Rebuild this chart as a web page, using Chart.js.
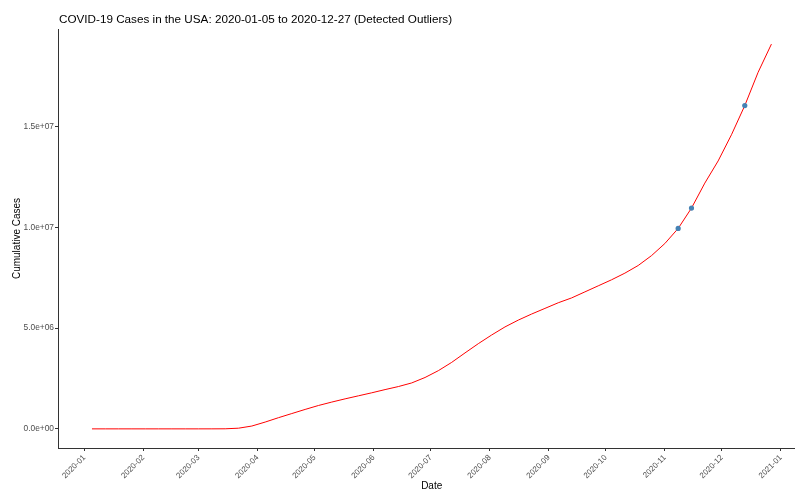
<!DOCTYPE html>
<html>
<head>
<meta charset="utf-8">
<script src="https://cdn.jsdelivr.net/npm/chart.js@4.4.1/dist/chart.umd.min.js"></script>
<style>
  html, body { margin: 0; padding: 0; background: #fff; overflow: hidden; }
  #wrap { width: 808px; height: 492px; }
</style>
</head>
<body>
<div id="wrap"><canvas id="lineChart" width="808" height="492"></canvas></div>
<script>
// weekly dates (Sundays)
var weekDates = [
  '2020-01-05','2020-01-12','2020-01-19','2020-01-26',
  '2020-02-02','2020-02-09','2020-02-16','2020-02-23',
  '2020-03-01','2020-03-08','2020-03-15','2020-03-22','2020-03-29',
  '2020-04-05','2020-04-12','2020-04-19','2020-04-26',
  '2020-05-03','2020-05-10','2020-05-17','2020-05-24','2020-05-31',
  '2020-06-07','2020-06-14','2020-06-21','2020-06-28',
  '2020-07-05','2020-07-12','2020-07-19','2020-07-26',
  '2020-08-02','2020-08-09','2020-08-16','2020-08-23','2020-08-30',
  '2020-09-06','2020-09-13','2020-09-20','2020-09-27',
  '2020-10-04','2020-10-11','2020-10-18','2020-10-25',
  '2020-11-01','2020-11-08','2020-11-15','2020-11-22','2020-11-29',
  '2020-12-06','2020-12-13','2020-12-20','2020-12-27'
];
// cumulative cases
var cumCases = [
  0, 0, 0, 5,
  8, 11, 13, 15,
  30, 500, 3500, 33000, 140000,
  337000, 555000, 760000, 965000,
  1160000, 1330000, 1490000, 1640000, 1790000,
  1950000, 2100000, 2280000, 2550000,
  2890000, 3300000, 3770000, 4230000,
  4660000, 5060000, 5400000, 5700000, 5980000,
  6260000, 6500000, 6800000, 7100000,
  7400000, 7730000, 8110000, 8600000,
  9200000, 9950000, 10960000, 12200000, 13300000,
  14600000, 16050000, 17700000, 19100000
];
// detected outliers
var outlierDates = ['2020-11-08', '2020-11-15', '2020-12-13'];
var outlierCases = [9950000, 10960000, 16050000];

var monthTicks = ['2020-01','2020-02','2020-03','2020-04','2020-05','2020-06',
  '2020-07','2020-08','2020-09','2020-10','2020-11','2020-12','2021-01'];
var yTicks = [0, 5000000, 10000000, 15000000];

var titleText = 'COVID-19 Cases in the USA: 2020-01-05 to 2020-12-27 (Detected Outliers)';

var FONT = "'Liberation Sans', Arial, sans-serif";

function dayNum(s) {
  var p = s.split('-');
  var d = Date.UTC(+p[0], +p[1] - 1, p[2] ? +p[2] : 1);
  return (d - Date.UTC(2020, 0, 1)) / 86400000;
}

function sci(v) {
  var s = v.toExponential(1);
  var m = s.split('e');
  var sign = m[1].charAt(0);
  var ex = m[1].slice(1);
  if (ex.length < 2) ex = '0' + ex;
  return m[0] + 'e' + sign + ex;
}

var lineData = weekDates.map(function (d, i) { return { x: dayNum(d), y: cumCases[i] }; });
var outData = outlierDates.map(function (d, i) { return { x: dayNum(d), y: outlierCases[i] }; });
var monthDays = monthTicks.map(dayNum);

var titlePlugin = {
  id: 'ggTitle',
  afterDraw: function (chart) {
    var ctx = chart.ctx;
    ctx.save();
    ctx.font = '11.7px ' + FONT;
    ctx.fillStyle = '#000';
    ctx.textBaseline = 'alphabetic';
    ctx.fillText(titleText, chart.chartArea.left + 1, 23);
    ctx.restore();
  }
};

var ctx = document.getElementById('lineChart').getContext('2d');
var myChart = new Chart(ctx, {
  type: 'scatter',
  data: {
    datasets: [{
      label: 'outliers',
      data: outData,
      showLine: false,
      pointRadius: 2.6,
      pointHoverRadius: 2.6,
      pointBackgroundColor: '#4682B4',
      pointBorderWidth: 0,
      order: 0
    }, {
      label: 'cases',
      data: lineData,
      showLine: true,
      borderColor: '#FF0000',
      borderWidth: 1,
      pointRadius: 0,
      tension: 0,
      fill: false,
      order: 1
    }]
  },
  options: {
    responsive: false,
    animation: false,
    layout: { padding: { top: 29, left: 0, right: 0, bottom: 0 } },
    plugins: {
      legend: { display: false },
      tooltip: { enabled: false },
      title: { display: false }
    },
    scales: {
      x: {
        type: 'linear',
        min: -13.85,
        max: 378.85,
        afterBuildTicks: function (scale) {
          scale.ticks = monthDays.map(function (v) { return { value: v }; });
        },
        afterFit: function (scale) { scale.height = 44; },
        grid: { display: true, drawOnChartArea: false, drawTicks: true, tickLength: 3, color: '#333' },
        border: { display: true, color: '#333', width: 1 },
        ticks: {
          autoSkip: false,
          maxRotation: 45,
          minRotation: 45,
          padding: 2,
          color: '#4d4d4d',
          font: { family: FONT, size: 8 },
          callback: function (v, i) { return monthTicks[i]; }
        },
        title: {
          display: true,
          text: 'Date',
          color: '#000',
          font: { family: FONT, size: 10, lineHeight: 1.1 },
          padding: { top: 0, bottom: 0 }
        }
      },
      y: {
        min: -950000,
        max: 19850000,
        afterBuildTicks: function (scale) {
          scale.ticks = yTicks.map(function (v) { return { value: v }; });
        },
        afterFit: function (scale) { scale.width = 58; },
        grid: { display: true, drawOnChartArea: false, drawTicks: true, tickLength: 3, color: '#333' },
        border: { display: true, color: '#333', width: 1 },
        ticks: {
          padding: 1,
          color: '#4d4d4d',
          font: { family: FONT, size: 8.4 },
          callback: function (v) { return sci(v); }
        },
        title: {
          display: true,
          text: 'Cumulative Cases',
          color: '#000',
          font: { family: FONT, size: 10 },
          padding: { top: 11, bottom: 0 }
        }
      }
    }
  },
  plugins: [titlePlugin]
});
</script>
</body>
</html>
